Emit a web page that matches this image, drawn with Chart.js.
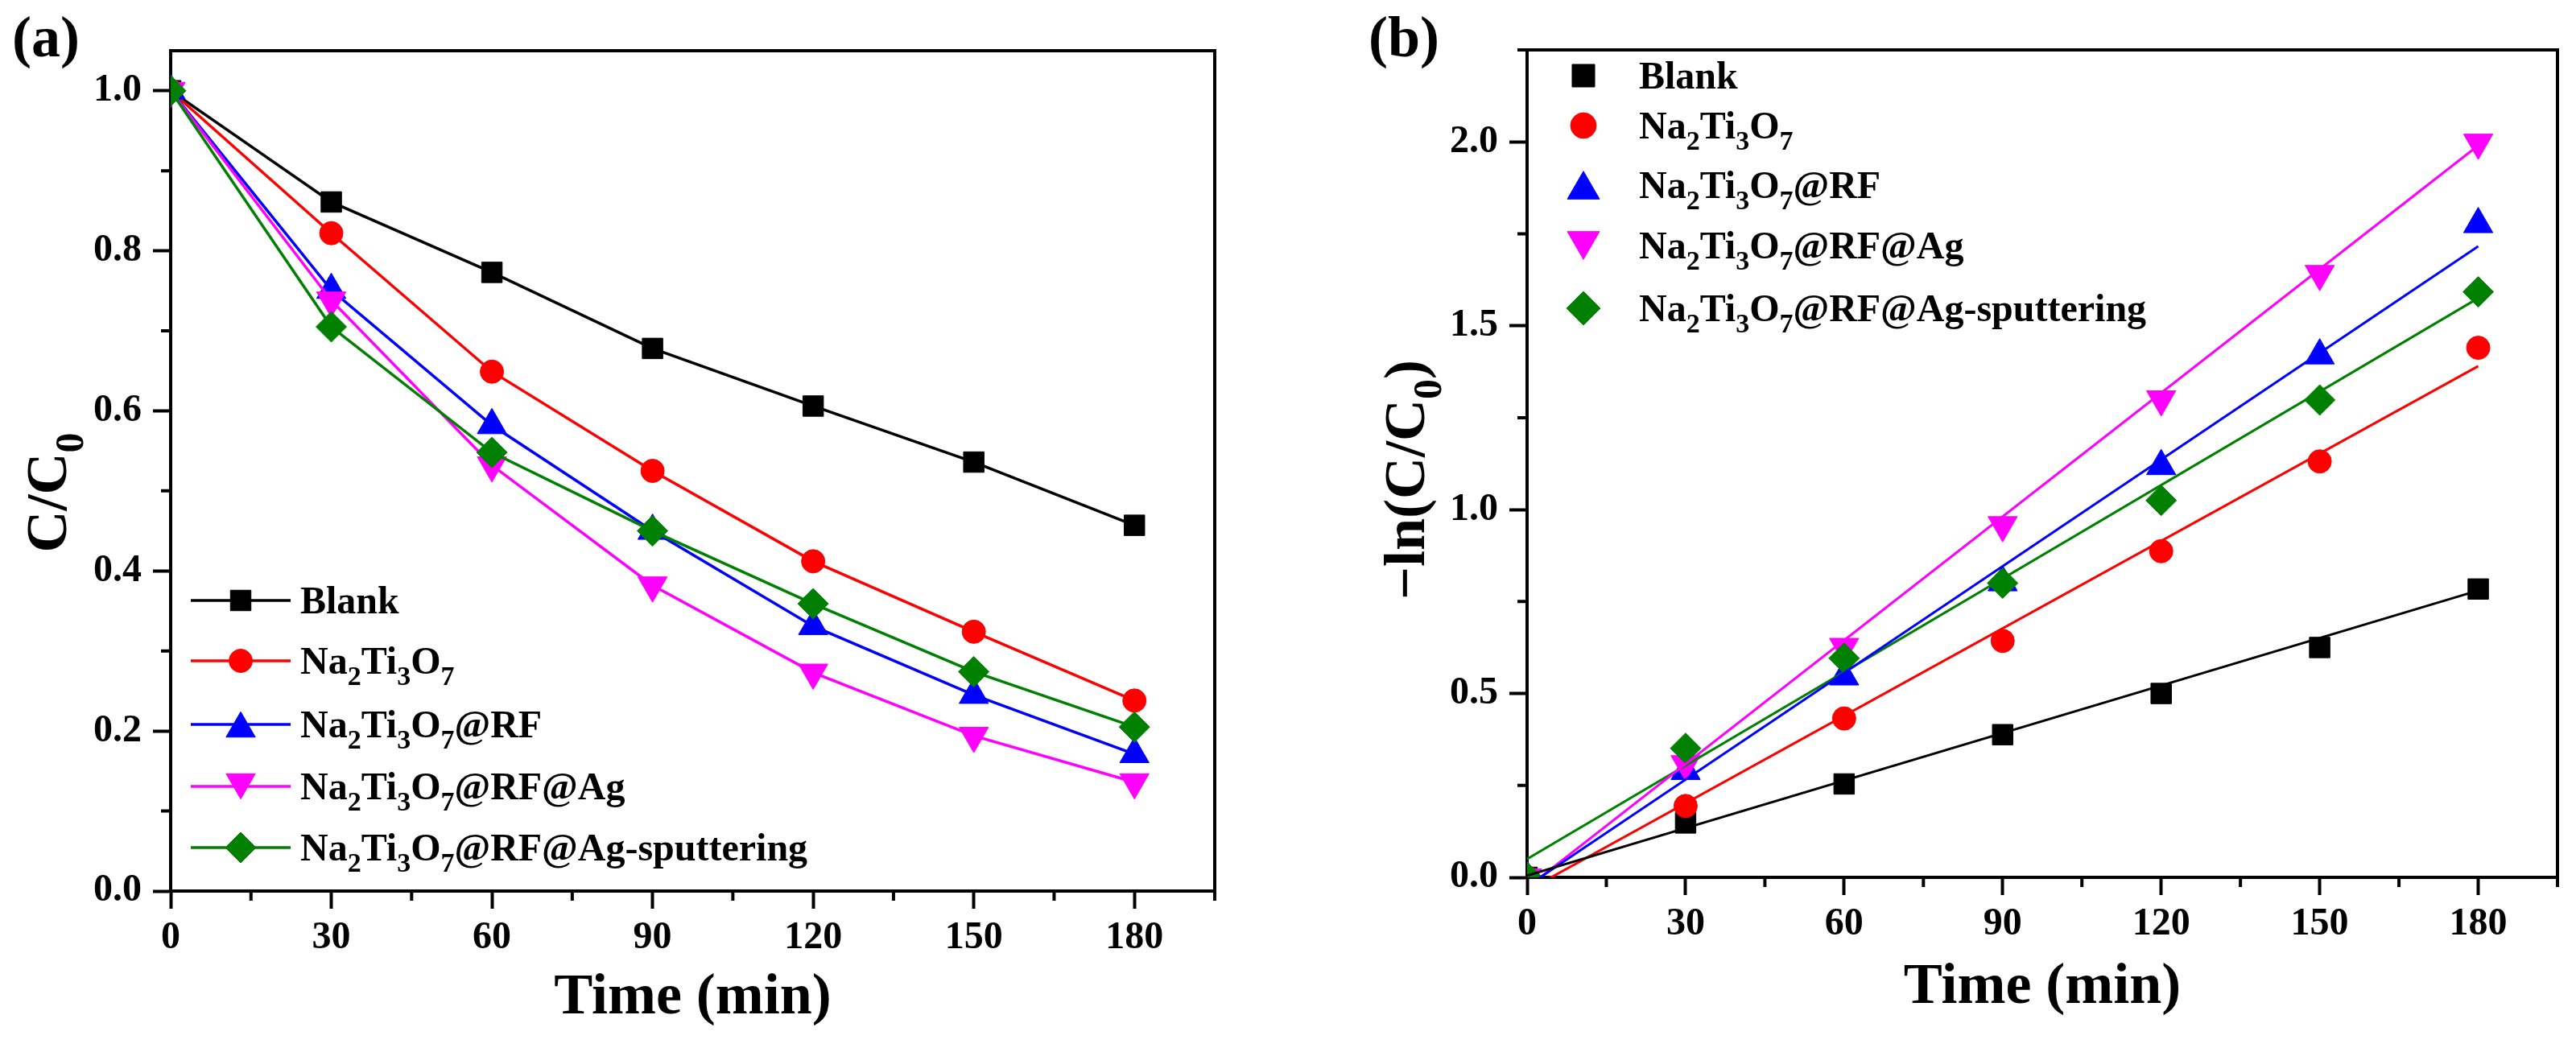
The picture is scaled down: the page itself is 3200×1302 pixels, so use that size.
<!DOCTYPE html>
<html>
<head>
<meta charset="utf-8">
<script src="https://cdn.jsdelivr.net/npm/chart.js@4.4.1/dist/chart.umd.min.js"></script>
<style>
  html, body { margin: 0; padding: 0; background: #fff; }
  .panel { position: absolute; top: 0; width: 1600px; height: 1302px; }
  #panelA { left: 0; }
  #panelB { left: 1600px; }
</style>
</head>
<body>
<div class="panel" id="panelA"><canvas id="chartA"></canvas></div>
<div class="panel" id="panelB"><canvas id="chartB"></canvas></div>
<script>
const FONT = "'Liberation Serif', 'Times New Roman', serif";

// ---- data ----
const timeMin = [0, 30, 60, 90, 120, 150, 180];
const seriesNames = ['Blank', 'Na2Ti3O7', 'Na2Ti3O7@RF', 'Na2Ti3O7@RF@Ag', 'Na2Ti3O7@RF@Ag-sputtering'];
const seriesColors = ['#000000', '#ff0000', '#0000ff', '#ff00ff', '#008000'];
const pointStyles = ['rect', 'circle', 'triangle', 'triangle', 'rectRot'];
const pointRotations = [0, 0, 0, 180, 0];
const pointSizes = [18, 14.5, 21, 21, 19];

// (a) C/C0
const ratioBlank = [1.0, 0.861, 0.773, 0.678, 0.606, 0.536, 0.457];
const ratioNTO = [1.0, 0.822, 0.649, 0.525, 0.412, 0.324, 0.238];
const ratioRF = [1.0, 0.751, 0.582, 0.450, 0.331, 0.245, 0.171];
const ratioAg = [1.0, 0.738, 0.532, 0.382, 0.273, 0.194, 0.136];
const ratioSput = [1.0, 0.705, 0.548, 0.450, 0.359, 0.274, 0.205];

// (b) -ln(C/C0)
const lnBlank = [0.0, 0.148, 0.254, 0.388, 0.500, 0.625, 0.784];
const lnNTO = [0.0, 0.194, 0.432, 0.643, 0.887, 1.131, 1.440];
const lnRF = [0.0, 0.289, 0.546, 0.802, 1.118, 1.419, 1.776];
const lnAg = [0.0, 0.308, 0.627, 0.958, 1.300, 1.641, 1.998];
const lnSput = [0.0, 0.351, 0.596, 0.800, 1.025, 1.298, 1.592];

// linear fits, value at x = 0 and x = 180
const fitX = [0, 180];
const fitBlank = [0.005, 0.780];
const fitNTO = [-0.036, 1.390];
const fitRF = [-0.024, 1.716];
const fitAg = [-0.028, 1.990];
const fitSput = [0.050, 1.575];

const xTicks = [0, 30, 60, 90, 120, 150, 180];
const yTicksA = [0.0, 0.2, 0.4, 0.6, 0.8, 1.0];
const yTicksB = [0.0, 0.5, 1.0, 1.5, 2.0];

// ---- helpers ----
function splitRich(text) {
  const parts = [];
  const re = /(\d+)|([^\d]+)/g;
  let m;
  while ((m = re.exec(text))) parts.push({ t: m[0], sub: !!m[1] });
  return parts;
}

// text with digits as subscripts, y = baseline
function drawRich(ctx, text, x, y, size, align) {
  const parts = splitRich(text);
  const main = `bold ${size}px ${FONT}`;
  const sub = `bold ${Math.round(size * 0.7)}px ${FONT}`;
  let w = 0;
  parts.forEach(p => {
    ctx.font = p.sub ? sub : main;
    p.w = ctx.measureText(p.t).width;
    w += p.w;
  });
  let cx = align === 'center' ? x - w / 2 : x;
  ctx.textAlign = 'left';
  ctx.textBaseline = 'alphabetic';
  parts.forEach(p => {
    ctx.font = p.sub ? sub : main;
    ctx.fillText(p.t, cx, p.sub ? y + size * 0.3 : y);
    cx += p.w;
  });
}

function drawMarker(ctx, ds, x, y, scale) {
  const r = ds.pointRadius * scale;
  let dy = 0;
  if (ds.pointStyle === 'triangle') dy = (ds.pointRotation ? -0.25 : 0.25) * r;
  ctx.fillStyle = ds.backgroundColor;
  ctx.strokeStyle = ds.borderColor;
  ctx.lineWidth = 1;
  Chart.helpers.drawPoint(ctx, {
    pointStyle: ds.pointStyle, rotation: ds.pointRotation || 0, radius: r, borderWidth: 1
  }, x, y + dy);
}

/* frame, minor ticks, y title, panel label, legend */
const decor = {
  id: 'decor',
  afterDraw(chart, args, o) {
    const { ctx, chartArea: a, scales } = chart;
    ctx.save();
    ctx.strokeStyle = '#000';
    ctx.fillStyle = '#000';
    ctx.lineWidth = 4;
    ctx.lineCap = 'butt';

    // top + right frame
    ctx.beginPath();
    ctx.moveTo(a.left - 2, a.top);
    ctx.lineTo(a.right, a.top);
    ctx.lineTo(a.right, a.bottom + 2);
    ctx.stroke();

    // minor ticks
    ctx.beginPath();
    o.xMinor.forEach(v => {
      const px = scales.x.getPixelForValue(v);
      ctx.moveTo(px, a.bottom);
      ctx.lineTo(px, a.bottom + 12);
    });
    o.yMinor.forEach(v => {
      const py = scales.y.getPixelForValue(v);
      ctx.moveTo(a.left, py);
      ctx.lineTo(a.left - 12, py);
    });
    ctx.stroke();

    // y title
    ctx.save();
    ctx.translate(o.yTitleX, o.yTitleY);
    ctx.rotate(-Math.PI / 2);
    drawRich(ctx, o.yTitle, 0, 72 * 0.33, 72, 'center');
    ctx.restore();

    // panel label
    ctx.font = `bold 72px ${FONT}`;
    ctx.textAlign = 'left';
    ctx.textBaseline = 'alphabetic';
    ctx.fillText(o.label, o.labelX, 70);

    // legend
    const sets = chart.data.datasets.filter(d => !d.isFit);
    sets.forEach((ds, i) => {
      const y = o.legendRows[i];
      if (o.lineHalf) {
        ctx.strokeStyle = ds.borderColor;
        ctx.lineWidth = ds.borderWidth;
        ctx.beginPath();
        ctx.moveTo(o.markerX - o.lineHalf, y);
        ctx.lineTo(o.markerX + o.lineHalf, y);
        ctx.stroke();
      }
      drawMarker(ctx, ds, o.markerX, y, o.markerScale);
      ctx.fillStyle = '#000';
      drawRich(ctx, ds.label, o.textX, y + 48 * 0.33, 48, 'left');
    });
    ctx.restore();
  }
};

function pointSet(i, values, showLine) {
  return {
    label: seriesNames[i],
    data: timeMin.map((t, j) => ({ x: t, y: values[j] })),
    borderColor: seriesColors[i],
    backgroundColor: seriesColors[i],
    pointStyle: pointStyles[i],
    pointRotation: pointRotations[i],
    pointRadius: pointSizes[i],
    pointBorderWidth: 1,
    borderWidth: 3.5,
    showLine: showLine,
    order: 10 - i,
    clip: 0
  };
}

function fitSet(i, values) {
  return {
    label: seriesNames[i] + ' fit',
    isFit: true,
    data: fitX.map((t, j) => ({ x: t, y: values[j] })),
    borderColor: seriesColors[i],
    backgroundColor: seriesColors[i],
    pointRadius: 0,
    borderWidth: 3,
    showLine: true,
    order: 0,
    clip: 0
  };
}

const tickFont = { family: FONT, size: 48, weight: 'bold' };
const axisGrid = { display: true, drawOnChartArea: false, drawTicks: true, tickLength: 22, tickWidth: 4, tickColor: '#000' };
const axisBorder = { display: true, color: '#000', width: 4 };

function makeChart(id, p) {
  return new Chart(document.getElementById(id), {
    type: 'scatter',
    data: { datasets: p.datasets },
    options: {
      responsive: true,
      maintainAspectRatio: false,
      animation: false,
      events: [],
      layout: { padding: { top: p.top, right: p.right, left: 0, bottom: 0 } },
      scales: {
        x: {
          type: 'linear', min: 0, max: 195, z: 1,
          afterBuildTicks: s => { s.ticks = xTicks.map(v => ({ value: v })); },
          afterFit: s => { s.height = p.xHeight; },
          ticks: { font: tickFont, color: '#000', padding: 8, maxRotation: 0, autoSkip: false, callback: v => String(v) },
          grid: axisGrid,
          border: axisBorder,
          title: {
            display: true, text: 'Time (min)', color: '#000',
            font: { family: FONT, size: 72, weight: 'bold' },
            padding: { top: 0, bottom: p.titlePad }
          }
        },
        y: {
          type: 'linear', min: 0, max: p.yMax, z: 1,
          afterBuildTicks: s => { s.ticks = p.yTicks.map(v => ({ value: v })); },
          afterFit: s => { s.width = p.yWidth; },
          ticks: { font: tickFont, color: '#000', padding: 14, autoSkip: false, callback: v => v.toFixed(1) },
          grid: axisGrid,
          border: axisBorder
        }
      },
      plugins: {
        legend: { display: false },
        tooltip: { enabled: false },
        decor: p.decor
      }
    },
    plugins: [decor]
  });
}

const ratioSeries = [ratioBlank, ratioNTO, ratioRF, ratioAg, ratioSput];
const lnSeries = [lnBlank, lnNTO, lnRF, lnAg, lnSput];
const fitSeries = [fitBlank, fitNTO, fitRF, fitAg, fitSput];

makeChart('chartA', {
  datasets: ratioSeries.map((v, i) => pointSet(i, v, true)),
  top: 63, right: 91, xHeight: 195, yWidth: 212, yMax: 1.05, yTicks: yTicksA, titlePad: 18,
  decor: {
    xMinor: [15, 45, 75, 105, 135, 165, 195],
    yMinor: [0.1, 0.3, 0.5, 0.7, 0.9],
    yTitle: 'C/C0', yTitleX: 58, yTitleY: 612,
    label: '(a)', labelX: 15,
    legendRows: [746, 821, 900, 977, 1053],
    markerX: 299, lineHalf: 62, textX: 373, markerScale: 1
  }
});

makeChart('chartB', {
  datasets: lnSeries.map((v, i) => pointSet(i, v, false)).concat(fitSeries.map((v, i) => fitSet(i, v))),
  top: 62, right: 23, xHeight: 212, yWidth: 297, yMax: 2.25, yTicks: yTicksB, titlePad: 31,
  decor: {
    xMinor: [15, 45, 75, 105, 135, 165, 195],
    yMinor: [0.25, 0.75, 1.25, 1.75, 2.25],
    yTitle: '\u2212ln(C/C0)', yTitleX: 145, yTitleY: 596,
    label: '(b)', labelX: 100,
    legendRows: [94, 156, 230, 305, 383],
    markerX: 367, lineHalf: 0, textX: 436, markerScale: 1.1
  }
});
</script>
</body>
</html>
